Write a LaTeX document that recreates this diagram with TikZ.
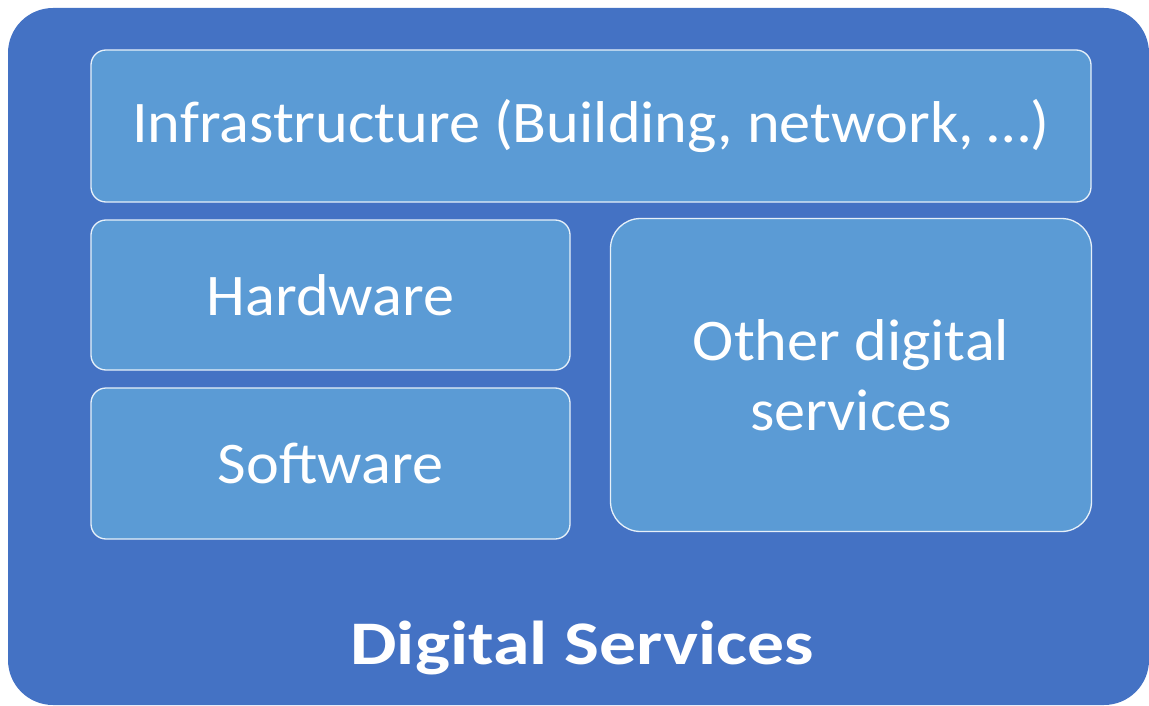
\documentclass[tikz,border=0pt]{standalone}
\usepackage{fontspec}
\setmainfont{Carlito}
\newfontfamily\boxfont[FakeStretch=1.055]{Carlito}
\newfontfamily\titlefont[FakeStretch=1.19]{Carlito}
\definecolor{outerblue}{HTML}{4472C4}
\definecolor{innerblue}{HTML}{5B9BD5}
\begin{document}
\begin{tikzpicture}[x=1pt,y=-1pt,
  innerbox/.style={draw=white!85!innerblue, line width=1.3pt, fill=innerblue, rounded corners=15pt,
    inner sep=0pt, text=white, font=\boxfont\fontsize{59}{70}\selectfont, align=center},
  outerbox/.style={fill=outerblue, rounded corners=45pt}]
\useasboundingbox (0,0) rectangle (1149,706);
\path[outerbox] (8,8) rectangle (1149,705);
\node[innerbox, minimum width=1000pt, minimum height=152pt] (infra) at (591,126) {Infrastructure (Building, network, …)};
\node[innerbox, minimum width=479pt, minimum height=150pt] (hw) at (330.5,295) {Hardware};
\node[innerbox, minimum width=479pt, minimum height=151pt] (sw) at (330.5,463.5) {Software};
\node[innerbox, rounded corners=30pt, minimum width=481pt, minimum height=313pt] (other) at (851,375) {Other digital\\services};
\node[text=white, font=\titlefont\bfseries\fontsize{62}{70}\selectfont, anchor=base] (ds) at (582,664) {Digital Services};
\end{tikzpicture}
\end{document}
